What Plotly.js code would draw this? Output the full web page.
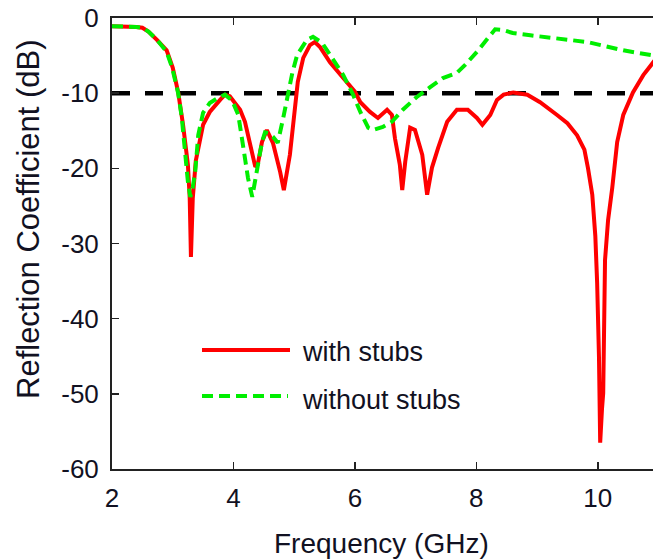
<!DOCTYPE html>
<html>
<head>
<meta charset="utf-8">
<script src="https://cdn.plot.ly/plotly-3.0.1.min.js"></script>
<style>html,body{margin:0;padding:0;background:#fff;}#chart{width:653px;height:560px;}</style>
</head>
<body>
<div id="chart"></div>
<script>
// Reflection coefficient (dB) vs frequency (GHz)
const freqWith = [2.0,2.2,2.4,2.5,2.6,2.74,2.9,3.0,3.09,3.17,3.25,3.28,3.30,3.33,3.38,3.5,3.61,3.78,3.86,3.94,4.02,4.11,4.19,4.27,4.36,4.4,4.47,4.55,4.65,4.77,4.83,4.93,5.01,5.06,5.15,5.26,5.34,5.43,5.59,5.81,6.0,6.09,6.25,6.38,6.53,6.61,6.66,6.74,6.78,6.83,6.91,6.99,7.11,7.19,7.27,7.37,7.52,7.68,7.86,8.01,8.1,8.23,8.34,8.45,8.61,8.84,9.05,9.33,9.5,9.66,9.78,9.84,9.91,9.96,9.99,10.02,10.04,10.07,10.09,10.12,10.17,10.24,10.32,10.42,10.58,10.75,10.9,11.0];
const s11With = [-1.1,-1.1,-1.2,-1.3,-1.8,-2.9,-4.3,-6.6,-9.9,-14.2,-19.5,-24,-31.8,-24,-19,-14.2,-12.5,-10.9,-10.2,-10.4,-11.2,-12.2,-13.8,-16.9,-19.8,-19.5,-16.5,-14.9,-16.6,-20.5,-22.9,-18.2,-12.9,-8.5,-5.3,-3.6,-3.2,-3.9,-5.9,-8,-9.8,-11.2,-12.5,-13.3,-12.2,-12.9,-16,-19.5,-22.9,-19.1,-14.6,-14.9,-18.2,-23.5,-19.9,-17.3,-13.8,-12.2,-12.2,-13.3,-14.2,-12.9,-10.9,-10.2,-9.9,-10.2,-11.2,-12.9,-14,-15.6,-17.5,-20,-23.5,-29,-35.2,-45,-56.5,-52,-49.9,-32.2,-26.9,-22.5,-16.5,-12.9,-9.9,-7.6,-5.9,-5.0];

const freqWithout = [2.0,2.2,2.4,2.5,2.6,2.74,2.9,2.99,3.09,3.15,3.2,3.25,3.29,3.33,3.37,3.42,3.5,3.61,3.75,3.86,3.98,4.08,4.13,4.19,4.24,4.31,4.39,4.47,4.52,4.58,4.65,4.73,4.82,4.88,4.97,5.05,5.21,5.31,5.46,5.59,5.81,5.97,6.09,6.22,6.3,6.46,6.61,6.79,7.02,7.24,7.45,7.68,7.82,8.01,8.18,8.31,8.44,8.6,8.89,9.33,9.83,10.42,10.91,11.0];
const s11Without = [-1.1,-1.1,-1.2,-1.3,-1.8,-2.9,-4.5,-6.6,-10,-13.3,-18.2,-21.8,-23.8,-22.5,-20.5,-15.6,-12.6,-11.3,-10.6,-10.2,-11.0,-12.9,-15.5,-18.6,-21.3,-23.8,-19.9,-16.5,-15.2,-15.3,-15.8,-16.6,-13.3,-10.6,-7.3,-4.9,-2.9,-2.5,-3.3,-4.9,-7.6,-10.2,-12.5,-14.6,-14.9,-14.5,-13.8,-12.2,-10.5,-9.2,-8.0,-7.3,-6.2,-4.5,-2.7,-1.5,-1.6,-2.0,-2.3,-2.7,-3.2,-4.3,-4.9,-5.1];

const thresholdX = [2, 11];
const thresholdY = [-10, -10];

const seriesNames = ['with stubs', 'without stubs'];
const xTicks = [2, 4, 6, 8, 10];
const yTicks = [0, -10, -20, -30, -40, -50, -60];

const FONT = 'Liberation Sans, Arial, Helvetica, sans-serif';
const TXT = '#111122';

const traces = [
  {x: thresholdX, y: thresholdY, mode: 'lines', showlegend: false, hoverinfo: 'skip',
   line: {color: '#000000', width: 4.5, dash: '18px,15px'}},
  {x: freqWith, y: s11With, name: seriesNames[0], mode: 'lines', showlegend: false,
   line: {color: '#ff0000', width: 4}},
  {x: freqWithout, y: s11Without, name: seriesNames[1], mode: 'lines', showlegend: false,
   line: {color: '#00ee00', width: 4, dash: '11px,6px'}}
];

const layout = {
  width: 653, height: 560,
  margin: {l: 112, r: 0, t: 18, b: 91},
  paper_bgcolor: '#ffffff', plot_bgcolor: '#ffffff',
  font: {family: FONT, color: TXT},
  xaxis: {
    range: [2, 10.91], tickvals: xTicks, ticktext: xTicks.map(String),
    ticks: 'inside', ticklen: 7, tickwidth: 1.5, tickcolor: '#222',
    showline: true, linecolor: '#222', linewidth: 2, mirror: 'ticks',
    showgrid: false, zeroline: false,
    tickfont: {size: 26, family: FONT, color: TXT}, ticklabelstandoff: 5
  },
  yaxis: {
    range: [-60, 0], tickvals: yTicks, ticktext: yTicks.map(String),
    ticks: 'inside', ticklen: 7, tickwidth: 1.5, tickcolor: '#222',
    showline: true, linecolor: '#222', linewidth: 2, mirror: false,
    showgrid: false, zeroline: false,
    tickfont: {size: 26, family: FONT, color: TXT}, ticklabelstandoff: 6
  },
  shapes: [
    {type: 'line', xref: 'paper', yref: 'paper', x0: 90/541, x1: 178/541, y0: (469-350)/451, y1: (469-350)/451,
     line: {color: '#ff0000', width: 4}},
    {type: 'line', xref: 'paper', yref: 'paper', x0: 90/541, x1: 176/541, y0: (469-396)/451, y1: (469-396)/451,
     line: {color: '#00ee00', width: 4, dash: '11px,6px'}}
  ],
  annotations: [
    {xref: 'paper', yref: 'paper', x: 188/541, y: (469-352)/451, xanchor: 'left', yanchor: 'middle',
     text: seriesNames[0], showarrow: false, font: {size: 27, family: FONT, color: TXT}},
    {xref: 'paper', yref: 'paper', x: 188/541, y: (469-400)/451, xanchor: 'left', yanchor: 'middle',
     text: seriesNames[1], showarrow: false, font: {size: 27, family: FONT, color: TXT}},
    {xref: 'paper', yref: 'paper', x: (381-112)/541, y: (469-543)/451, xanchor: 'center', yanchor: 'middle',
     text: 'Frequency (GHz)', showarrow: false, font: {size: 28, family: FONT, color: TXT}},
    {xref: 'paper', yref: 'paper', x: (28-112)/541, y: (469-219)/451, xanchor: 'center', yanchor: 'middle',
     text: 'Reflection Coefficient (dB)', textangle: -90, showarrow: false, font: {size: 31, family: FONT, color: TXT}}
  ]
};

Plotly.newPlot('chart', traces, layout, {displayModeBar: false, staticPlot: true});
</script>
</body>
</html>
